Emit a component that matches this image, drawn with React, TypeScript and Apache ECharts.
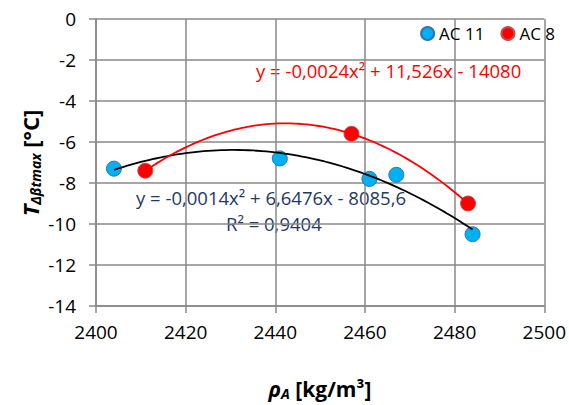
import React, { useEffect, useRef } from "react";
import * as echarts from "echarts";

const ac11X = [2404, 2441, 2461, 2467, 2484];
const ac11Y = [-7.3, -6.8, -7.8, -7.6, -10.5];
const ac8X = [2411, 2457, 2483];
const ac8Y = [-7.4, -5.6, -9.0];
const seriesNames = ["AC 11", "AC 8"];
const eqAC8 = "y = -0,0024x² + 11,526x - 14080";
const eqAC11 = "y = -0,0014x² + 6,6476x - 8085,6";
const r2AC11 = "R² = 0,9404";

const FONT = "'Open Sans', 'Liberation Sans', sans-serif";

// least-squares quadratic fit
function quadFit(xs: number[], ys: number[]) {
  const n = xs.length;
  const x0 = xs.reduce((a, b) => a + b, 0) / n;
  const u = xs.map((x) => x - x0);
  let s0 = n, s1 = 0, s2 = 0, s3 = 0, s4 = 0, t0 = 0, t1 = 0, t2 = 0;
  for (let i = 0; i < n; i++) {
    const v = u[i];
    s1 += v; s2 += v * v; s3 += v * v * v; s4 += v * v * v * v;
    t0 += ys[i]; t1 += v * ys[i]; t2 += v * v * ys[i];
  }
  const M = [
    [s0, s1, s2, t0],
    [s1, s2, s3, t1],
    [s2, s3, s4, t2],
  ];
  for (let c = 0; c < 3; c++) {
    let p = c;
    for (let r = c + 1; r < 3; r++) if (Math.abs(M[r][c]) > Math.abs(M[p][c])) p = r;
    [M[c], M[p]] = [M[p], M[c]];
    for (let r = 0; r < 3; r++) {
      if (r === c) continue;
      const f = M[r][c] / M[c][c];
      for (let k = c; k < 4; k++) M[r][k] -= f * M[c][k];
    }
  }
  const c0 = M[0][3] / M[0][0];
  const c1 = M[1][3] / M[1][1];
  const c2 = M[2][3] / M[2][2];
  return (x: number) => {
    const v = x - x0;
    return c0 + c1 * v + c2 * v * v;
  };
}

function trendPoints(xs: number[], ys: number[]) {
  const f = quadFit(xs, ys);
  const lo = Math.min(...xs);
  const hi = Math.max(...xs);
  const pts: number[][] = [];
  const steps = 80;
  for (let i = 0; i <= steps; i++) {
    const x = lo + ((hi - lo) * i) / steps;
    pts.push([x, f(x)]);
  }
  return pts;
}

export default function App() {
  const ref = useRef<HTMLDivElement>(null);
  useEffect(() => {
    document.body.style.margin = "0";
    const chart = echarts.init(ref.current!, null, { renderer: "svg" });
    const gray = "#888888";
    const option: any = {
      animation: false,
      backgroundColor: "#ffffff",
      grid: { left: 96, right: 24, top: 19, bottom: 99 },
      legend: {
        data: seriesNames,
        right: 9,
        top: 20,
        icon: "circle",
        itemWidth: 13,
        itemHeight: 13,
        itemGap: 16,
        textStyle: { fontFamily: FONT, fontSize: 17, color: "#000" },
      },
      xAxis: {
        type: "value",
        min: 2400,
        max: 2500,
        interval: 20,
        axisLine: { show: true, onZero: false, lineStyle: { color: gray, width: 1.5 } },
        axisTick: { show: true, length: 7, lineStyle: { color: gray, width: 1.5 } },
        splitLine: { show: true, lineStyle: { color: gray, width: 1.5 } },
        axisLabel: { fontFamily: FONT, fontSize: 19, color: "#000", margin: 16, formatter: (v: number) => String(v) },
      },
      yAxis: {
        type: "value",
        min: -14,
        max: 0,
        interval: 2,
        axisLine: { show: true, onZero: false, lineStyle: { color: gray, width: 1.5 } },
        axisTick: { show: true, length: 7, lineStyle: { color: gray, width: 1.5 } },
        splitLine: { show: true, lineStyle: { color: gray, width: 1.5 } },
        axisLabel: { fontFamily: FONT, fontSize: 19, color: "#000", margin: 20, formatter: (v: number) => String(v) },
      },
      series: [
        {
          name: seriesNames[0],
          type: "scatter",
          symbol: "circle",
          symbolSize: 15,
          itemStyle: { color: "#00B0F0", borderColor: "#2E75B6", borderWidth: 1, opacity: 1 },
          data: ac11X.map((x, i) => [x, ac11Y[i]]),
          z: 2,
        },
        {
          name: seriesNames[1],
          type: "scatter",
          symbol: "circle",
          symbolSize: 15,
          itemStyle: { color: "#FF0000", borderColor: "#C0504D", borderWidth: 1, opacity: 1 },
          data: ac8X.map((x, i) => [x, ac8Y[i]]),
          z: 2,
        },
        {
          name: "trend AC 11",
          type: "line",
          showSymbol: false,
          symbol: "none",
          smooth: false,
          lineStyle: { color: "#000000", width: 1.8 },
          data: trendPoints(ac11X, ac11Y),
          z: 5,
          silent: true,
        },
        {
          name: "trend AC 8",
          type: "line",
          showSymbol: false,
          symbol: "none",
          smooth: false,
          lineStyle: { color: "#FF0000", width: 1.8 },
          data: trendPoints(ac8X, ac8Y),
          z: 5,
          silent: true,
        },
      ],
      graphic: [
        {
          type: "text",
          left: 256,
          top: 61,
          style: { text: eqAC8, fill: "#FF0000", font: `18.5px ${FONT}` },
        },
        {
          type: "text",
          left: 136,
          top: 188,
          style: { text: eqAC11, fill: "#1F3864", font: `18.5px ${FONT}` },
        },
        {
          type: "text",
          left: 226,
          top: 214,
          style: { text: r2AC11, fill: "#1F3864", font: `18.5px ${FONT}` },
        },
        {
          type: "text",
          x: 320,
          y: 389,
          style: {
            text: "{r|ρ}{s|A}{b| [kg/m³]}",
            align: "center",
            verticalAlign: "middle",
            rich: {
              r: { fontFamily: FONT, fontSize: 21, fontWeight: "bold", fontStyle: "italic", fill: "#000" },
              s: { fontFamily: FONT, fontSize: 14, fontWeight: "bold", fontStyle: "italic", fill: "#000", padding: [8, 0, 0, 0] },
              b: { fontFamily: FONT, fontSize: 21, fontWeight: "bold", fill: "#000" },
            },
          },
        },
        {
          type: "text",
          x: 30,
          y: 163,
          rotation: Math.PI / 2,
          style: {
            text: "{r|T}{s|Δβtmax}{b| [°C]}",
            align: "center",
            verticalAlign: "middle",
            rich: {
              r: { fontFamily: FONT, fontSize: 22, fontWeight: "bold", fontStyle: "italic", fill: "#000" },
              s: { fontFamily: FONT, fontSize: 14, fontWeight: "bold", fontStyle: "italic", fill: "#000", padding: [10, 0, 0, 0] },
              b: { fontFamily: FONT, fontSize: 22, fontWeight: "bold", fill: "#000" },
            },
          },
        },
      ],
    };
    chart.setOption(option);
    return () => chart.dispose();
  }, []);
  return <div ref={ref} style={{ width: 569, height: 405 }} />;
}
